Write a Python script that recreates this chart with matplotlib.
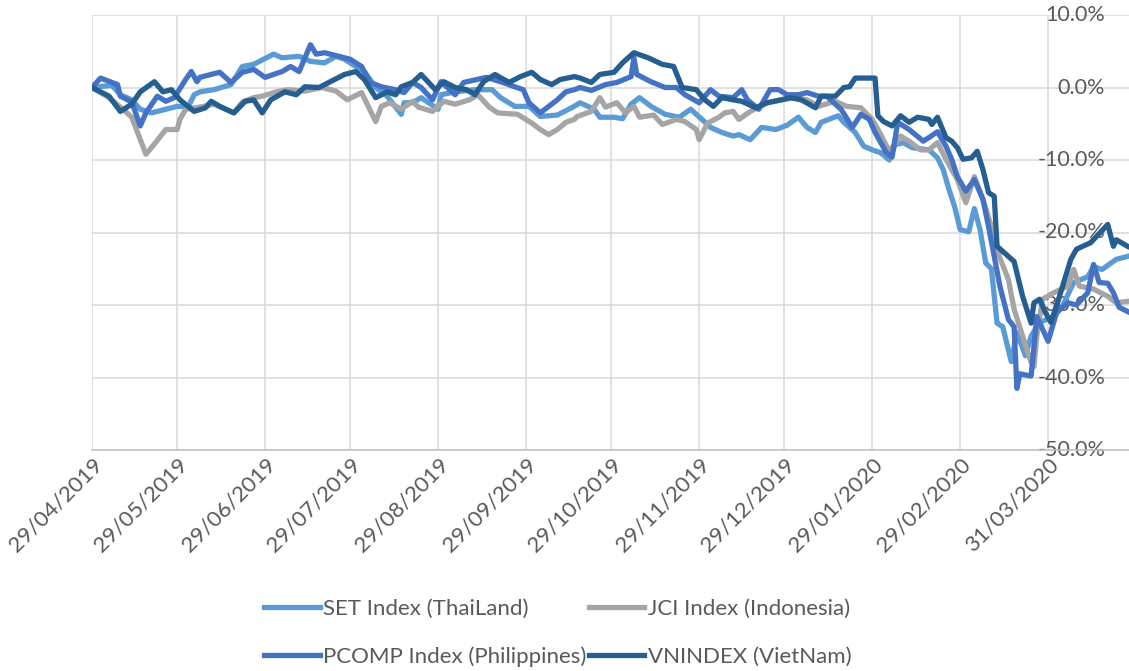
import datetime as dt
import matplotlib
matplotlib.use("Agg")
import matplotlib.pyplot as plt
import matplotlib.dates as mdates

# SET Index (ThaiLand), % change since 29/04/2019
set_dates = ["2019-04-29", "2019-05-06", "2019-05-09", "2019-05-13", "2019-05-16", "2019-05-20",
             "2019-05-25", "2019-05-29", "2019-06-02", "2019-06-04", "2019-06-06", "2019-06-11",
             "2019-06-17", "2019-06-21", "2019-06-25", "2019-07-02", "2019-07-05", "2019-07-11",
             "2019-07-15", "2019-07-20", "2019-07-24", "2019-07-27", "2019-07-31", "2019-08-03",
             "2019-08-07", "2019-08-11", "2019-08-16", "2019-08-17", "2019-08-20", "2019-08-23",
             "2019-08-29", "2019-08-30", "2019-09-04", "2019-09-11", "2019-09-17", "2019-09-20",
             "2019-09-25", "2019-09-30", "2019-10-04", "2019-10-10", "2019-10-16", "2019-10-18",
             "2019-10-23", "2019-10-25", "2019-10-30", "2019-11-02", "2019-11-05", "2019-11-08",
             "2019-11-12", "2019-11-17", "2019-11-22", "2019-11-26", "2019-11-30", "2019-12-03",
             "2019-12-07", "2019-12-11", "2019-12-13", "2019-12-17", "2019-12-21", "2019-12-26",
             "2019-12-30", "2020-01-03", "2020-01-06", "2020-01-09", "2020-01-11", "2020-01-17",
             "2020-01-19", "2020-01-23", "2020-01-26", "2020-01-29", "2020-02-01", "2020-02-04",
             "2020-02-06", "2020-02-09", "2020-02-12", "2020-02-18", "2020-02-21", "2020-02-23",
             "2020-02-25", "2020-02-27", "2020-02-29", "2020-03-03", "2020-03-05", "2020-03-07",
             "2020-03-09", "2020-03-11", "2020-03-13", "2020-03-15", "2020-03-18", "2020-03-20",
             "2020-03-23", "2020-03-25", "2020-03-28", "2020-04-02", "2020-04-05", "2020-04-09",
             "2020-04-14", "2020-04-16", "2020-04-19", "2020-04-24", "2020-04-28"]
set_vals = [0, 0.3, -1.0, -1.7, -3.0, -3.5,
            -3.0, -2.6, -2.6, -1.0, -0.6, -0.3,
            0.4, 2.9, 3.2, 4.6, 4.1, 4.3,
            3.6, 3.4, 4.3, 3.9, 2.9, 2.2,
            0.0, -1.2, -3.7, -2.1, -2.1, -1.4,
            -3.0, -1.0, -0.6, -0.3, -0.3, -1.4,
            -2.6, -2.6, -4.0, -3.8, -2.6, -2.1,
            -3.0, -4.1, -4.1, -4.3, -2.3, -1.4,
            -2.6, -3.7, -4.1, -3.0, -4.4, -5.5,
            -6.2, -6.7, -6.5, -7.2, -5.5, -5.8,
            -5.2, -4.1, -5.5, -6.2, -4.8, -3.9,
            -4.8, -6.2, -8.1, -8.6, -9.0, -10.0,
            -7.9, -7.6, -8.3, -8.6, -9.7, -11.3,
            -14.0, -16.4, -19.6, -19.9, -16.7, -19.6,
            -24.2, -25.0, -32.5, -33.0, -37.8, -33.8,
            -37.0, -34.3, -32.4, -31.6, -30.2, -26.9,
            -26.1, -24.7, -25.1, -23.7, -23.3]

# JCI Index (Indonesia)
jci_dates = ["2019-04-29", "2019-05-05", "2019-05-09", "2019-05-13", "2019-05-18", "2019-05-21",
             "2019-05-25", "2019-05-29", "2019-05-30", "2019-06-01", "2019-06-06", "2019-06-11",
             "2019-06-18", "2019-06-21", "2019-06-25", "2019-06-28", "2019-07-03", "2019-07-07",
             "2019-07-13", "2019-07-19", "2019-07-24", "2019-07-28", "2019-08-02", "2019-08-07",
             "2019-08-09", "2019-08-12", "2019-08-16", "2019-08-20", "2019-08-22", "2019-08-27",
             "2019-08-31", "2019-09-04", "2019-09-09", "2019-09-12", "2019-09-16", "2019-09-19",
             "2019-09-26", "2019-10-01", "2019-10-04", "2019-10-07", "2019-10-10", "2019-10-13",
             "2019-10-16", "2019-10-17", "2019-10-22", "2019-10-25", "2019-10-27", "2019-10-31",
             "2019-11-03", "2019-11-06", "2019-11-08", "2019-11-13", "2019-11-16", "2019-11-21",
             "2019-11-24", "2019-11-28", "2019-11-29", "2019-12-02", "2019-12-06", "2019-12-08",
             "2019-12-11", "2019-12-13", "2019-12-17", "2019-12-23", "2019-12-28", "2020-01-02",
             "2020-01-06", "2020-01-10", "2020-01-16", "2020-01-20", "2020-01-25", "2020-01-29",
             "2020-02-01", "2020-02-04", "2020-02-08", "2020-02-11", "2020-02-15", "2020-02-18",
             "2020-02-21", "2020-02-24", "2020-02-28", "2020-03-02", "2020-03-05", "2020-03-08",
             "2020-03-11", "2020-03-14", "2020-03-17", "2020-03-19", "2020-03-22", "2020-03-25",
             "2020-03-26", "2020-03-27", "2020-03-29", "2020-04-02", "2020-04-07", "2020-04-09",
             "2020-04-11", "2020-04-16", "2020-04-21", "2020-04-24", "2020-04-28"]
jci_vals = [0, -1.4, -2.7, -4.1, -9.2, -7.8,
            -5.8, -5.8, -4.4, -3.0, -2.7, -2.3,
            -3.5, -2.0, -1.4, -1.2, -0.6, -0.3,
            -0.5, 0.0, -0.5, -1.7, -0.7, -4.7,
            -2.6, -2.1, -3.0, -1.9, -2.7, -3.3,
            -1.9, -2.3, -1.7, -1.0, -2.7, -3.5,
            -3.7, -4.9, -5.8, -6.5, -5.8, -4.8,
            -4.4, -4.0, -3.3, -1.4, -2.7, -2.1,
            -3.5, -2.6, -4.1, -3.8, -5.1, -4.4,
            -4.7, -5.8, -7.2, -4.9, -4.1, -3.5,
            -3.3, -4.4, -3.3, -2.1, -1.7, -1.4,
            -1.7, -2.6, -1.9, -2.6, -2.8, -4.4,
            -6.5, -8.8, -6.7, -7.4, -8.6, -8.6,
            -7.6, -9.9, -12.7, -15.9, -12.3, -15.4,
            -19.2, -23.5, -26.5, -30.6, -34.3, -37.9,
            -38.5, -34.3, -29.2, -28.3, -27.4, -25.1,
            -27.4, -27.8, -28.8, -29.7, -29.5]

# PCOMP Index (Philippines)
pcomp_dates = ["2019-04-29", "2019-05-02", "2019-05-08", "2019-05-09", "2019-05-13", "2019-05-16",
               "2019-05-18", "2019-05-22", "2019-05-25", "2019-05-28", "2019-06-01", "2019-06-03",
               "2019-06-05", "2019-06-06", "2019-06-10", "2019-06-13", "2019-06-17", "2019-06-21",
               "2019-06-25", "2019-06-29", "2019-07-05", "2019-07-08", "2019-07-11", "2019-07-15",
               "2019-07-17", "2019-07-20", "2019-07-25", "2019-07-29", "2019-08-02", "2019-08-05",
               "2019-08-09", "2019-08-14", "2019-08-17", "2019-08-20", "2019-08-23", "2019-08-27",
               "2019-08-30", "2019-09-04", "2019-09-07", "2019-09-15", "2019-09-20", "2019-09-25",
               "2019-09-28", "2019-09-30", "2019-10-04", "2019-10-07", "2019-10-10", "2019-10-13",
               "2019-10-16", "2019-10-18", "2019-10-22", "2019-10-27", "2019-10-31", "2019-11-05",
               "2019-11-06", "2019-11-07", "2019-11-12", "2019-11-17", "2019-11-21", "2019-11-24",
               "2019-11-29", "2019-12-03", "2019-12-06", "2019-12-11", "2019-12-14", "2019-12-16",
               "2019-12-20", "2019-12-24", "2019-12-27", "2019-12-30", "2020-01-03", "2020-01-06",
               "2020-01-10", "2020-01-13", "2020-01-16", "2020-01-18", "2020-01-22", "2020-01-25",
               "2020-01-28", "2020-01-30", "2020-02-03", "2020-02-05", "2020-02-07", "2020-02-11",
               "2020-02-16", "2020-02-18", "2020-02-21", "2020-02-24", "2020-02-26", "2020-02-28",
               "2020-03-02", "2020-03-05", "2020-03-08", "2020-03-10", "2020-03-12", "2020-03-14",
               "2020-03-17", "2020-03-19", "2020-03-20", "2020-03-21", "2020-03-25", "2020-03-27",
               "2020-03-31", "2020-04-03", "2020-04-07", "2020-04-10", "2020-04-14", "2020-04-16",
               "2020-04-18", "2020-04-21", "2020-04-23", "2020-04-25", "2020-04-28"]
pcomp_vals = [0, 1.3, 0.4, -1.2, -2.0, -5.3,
              -3.5, -1.2, -1.9, -1.4, 1.1, 2.2,
              0.8, 1.4, 1.8, 2.1, 0.7, 2.1,
              2.5, 1.4, 2.2, 2.9, 2.2, 5.9,
              4.6, 4.8, 4.3, 3.9, 2.9, 0.7,
              0.1, -0.3, -0.7, 0.7, 0.0, -1.7,
              0.8, -1.0, 0.7, 1.4, 0.8, 0.1,
              -0.3, -2.1, -3.5, -2.6, -1.7, -0.6,
              -0.3, 0.0, -0.4, 0.4, 0.7, 1.5,
              4.1, 1.8, 0.8, 0.0, 0.0, -1.0,
              -2.1, -0.3, -1.2, -1.4, -0.3, -1.7,
              -3.0, -0.3, -0.3, -1.0, -1.0, -0.7,
              -1.2, -1.2, -2.3, -3.0, -5.5, -3.7,
              -4.4, -6.2, -9.0, -9.6, -4.8, -5.8,
              -7.4, -6.9, -6.1, -8.1, -9.9, -12.3,
              -14.3, -12.7, -15.4, -19.2, -23.3, -27.4,
              -32.0, -33.0, -41.5, -39.5, -39.8, -31.6,
              -35.0, -31.0, -29.7, -30.0, -28.3, -24.4,
              -26.9, -27.0, -28.3, -30.3, -30.9]

# VNINDEX (VietNam)
vn_dates = ["2019-04-29", "2019-05-05", "2019-05-09", "2019-05-13", "2019-05-16", "2019-05-21",
            "2019-05-24", "2019-05-27", "2019-05-30", "2019-06-04", "2019-06-08", "2019-06-10",
            "2019-06-13", "2019-06-18", "2019-06-22", "2019-06-25", "2019-06-28", "2019-07-01",
            "2019-07-06", "2019-07-10", "2019-07-13", "2019-07-18", "2019-07-22", "2019-07-27",
            "2019-07-31", "2019-08-03", "2019-08-07", "2019-08-11", "2019-08-14", "2019-08-16",
            "2019-08-20", "2019-08-23", "2019-08-28", "2019-08-31", "2019-09-04", "2019-09-08",
            "2019-09-11", "2019-09-14", "2019-09-18", "2019-09-23", "2019-09-27", "2019-10-01",
            "2019-10-04", "2019-10-08", "2019-10-11", "2019-10-16", "2019-10-18", "2019-10-22",
            "2019-10-25", "2019-10-30", "2019-11-02", "2019-11-06", "2019-11-11", "2019-11-16",
            "2019-11-20", "2019-11-23", "2019-11-28", "2019-12-01", "2019-12-04", "2019-12-07",
            "2019-12-11", "2019-12-14", "2019-12-19", "2019-12-23", "2019-12-28", "2019-12-31",
            "2020-01-04", "2020-01-09", "2020-01-11", "2020-01-16", "2020-01-19", "2020-01-21",
            "2020-01-23", "2020-01-30", "2020-01-31", "2020-02-02", "2020-02-05", "2020-02-08",
            "2020-02-11", "2020-02-14", "2020-02-18", "2020-02-19", "2020-02-21", "2020-02-24",
            "2020-02-26", "2020-02-28", "2020-03-01", "2020-03-04", "2020-03-06", "2020-03-08",
            "2020-03-10", "2020-03-12", "2020-03-13", "2020-03-17", "2020-03-19", "2020-03-22",
            "2020-03-25", "2020-03-26", "2020-03-28", "2020-03-30", "2020-04-01", "2020-04-04",
            "2020-04-08", "2020-04-10", "2020-04-15", "2020-04-21", "2020-04-23", "2020-04-24",
            "2020-04-28"]
vn_vals = [0, -1.2, -3.3, -2.3, -0.6, 0.8,
           -0.6, -0.3, -1.7, -3.3, -2.8, -1.9,
           -2.6, -3.5, -1.9, -1.7, -3.5, -1.7,
           -0.6, -1.0, 0.1, 0.0, 0.8, 1.8,
           2.2, 1.1, -1.4, -0.6, -1.0, 0.1,
           0.7, 1.8, -0.3, 0.8, 0.0, -0.3,
           -1.0, 0.8, 1.8, 0.7, 1.5, 2.1,
           1.1, 0.4, 1.1, 1.5, 1.3, 0.7,
           1.8, 2.1, 3.4, 4.8, 4.1, 3.2,
           2.9, 0.0, -0.3, -1.7, -2.6, -1.4,
           -1.7, -1.9, -2.8, -2.1, -1.7, -1.4,
           -1.7, -2.8, -1.2, -1.2, 0.0, 0.1,
           1.3, 1.3, -3.9, -4.7, -5.3, -3.9,
           -4.8, -4.1, -4.4, -5.1, -4.1, -6.9,
           -7.4, -8.3, -9.9, -9.7, -8.8, -11.3,
           -14.5, -15.0, -21.9, -23.3, -24.0, -28.8,
           -32.5, -29.7, -29.2, -31.0, -32.4, -28.8,
           -23.7, -22.3, -21.4, -18.9, -21.9, -21.0,
           -21.9]

series_names = ["SET Index (ThaiLand)", "JCI Index (Indonesia)",
                "PCOMP Index (Philippines)", "VNINDEX (VietNam)"]
series_colors = ["#5B9BD5", "#A5A5A5", "#4472C4", "#255E91"]

tick_dates = ["2019-04-29", "2019-05-29", "2019-06-29", "2019-07-29", "2019-08-29", "2019-09-29",
              "2019-10-29", "2019-11-29", "2019-12-29", "2020-01-29", "2020-02-29", "2020-03-31"]
y_ticks = [10, 0, -10, -20, -30, -40, -50]

plt.rcParams["font.family"] = ["Lato", "DejaVu Sans"]
text_color = "#595959"

fig = plt.figure(figsize=(11.29, 6.71), dpi=100)
ax = fig.add_axes([92 / 1129, 1 - 450 / 671, 1 - 92 / 1129, (450 - 15) / 671])

def to_dates(strs):
    return [dt.datetime.strptime(s, "%Y-%m-%d") for s in strs]

all_dates = [set_dates, jci_dates, pcomp_dates, vn_dates]
all_vals = [set_vals, jci_vals, pcomp_vals, vn_vals]
lines = []
for d, v, name, c in zip(all_dates, all_vals, series_names, series_colors):
    ln, = ax.plot(to_dates(d), v, color=c, lw=3.8, label=name, solid_joinstyle="round", zorder=3)
    lines.append(ln)

start = dt.datetime(2019, 4, 29)
ax.set_xlim(start, start + dt.timedelta(days=365.5))
ax.set_ylim(-50, 10)

ax.set_xticks(to_dates(tick_dates))
ax.xaxis.set_major_formatter(mdates.DateFormatter("%d/%m/%Y"))
ax.set_yticks(y_ticks)
ax.grid(True, color="#D9D9D9", lw=1.1, zorder=0)
ax.tick_params(axis="both", length=0)
ax.tick_params(axis="x", pad=3, labelsize=16, labelcolor=text_color)
plt.setp(ax.get_xticklabels(), rotation=45, ha="right", va="top", rotation_mode="anchor")
ax.set_yticklabels([])
for yv in y_ticks:
    ax.text(0.977, yv, f"{yv:.1f}%", transform=ax.get_yaxis_transform(),
            ha="right", va="center", fontsize=15.5, color=text_color, zorder=2)

for side in ["top", "right", "left"]:
    ax.spines[side].set_visible(False)
ax.spines["bottom"].set_color("#BFBFBF")
ax.spines["bottom"].set_linewidth(1.1)

# legend laid out row by row: SET, JCI / PCOMP, VN
order = [0, 2, 1, 3]
fig.legend([lines[i] for i in order], [series_names[i] for i in order],
           loc="center", bbox_to_anchor=(0.494, 0.0565), ncol=2, frameon=False,
           fontsize=16, labelcolor=text_color, handlelength=2.5, handletextpad=0.15,
           columnspacing=0.1, labelspacing=1.25)

fig.savefig("out.png", dpi=100)
